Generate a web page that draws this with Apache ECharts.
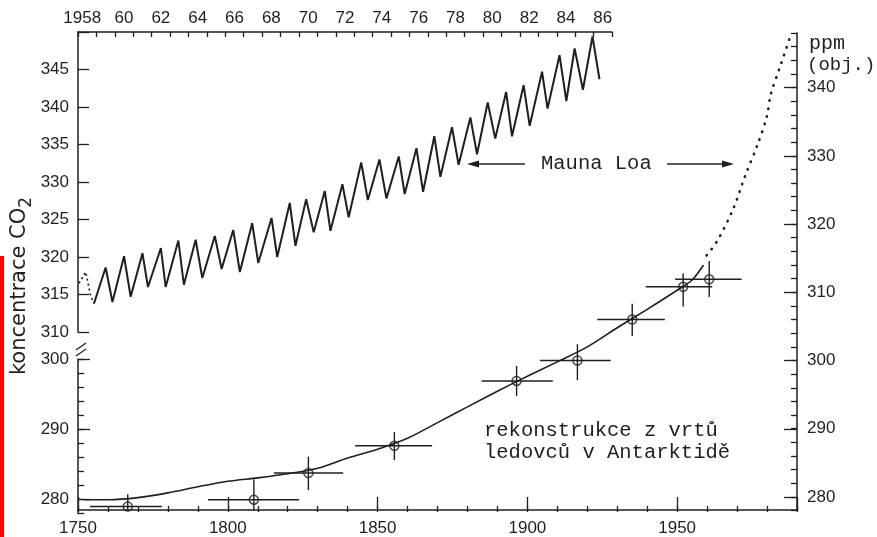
<!DOCTYPE html>
<html><head><meta charset="utf-8">
<script src="https://cdn.jsdelivr.net/npm/echarts/dist/echarts.min.js"></script>
<style>html,body{margin:0;padding:0;background:#fff}#c{width:877px;height:537px}</style>
</head><body><div id="c"></div>
<script>
// ---------- data ----------
// top axis categories (Mauna Loa years)
const topYears = ['1958','1959','1960','1961','1962','1963','1964','1965','1966','1967','1968','1969','1970','1971','1972','1973','1974','1975','1976','1977','1978','1979','1980','1981','1982','1983','1984','1985','1986'];

// Mauna Loa monthly record (decimal year, ppm) – solid part
const mlTime = [1958.87,1959.50,1959.87,1960.50,1960.86,1961.50,1961.80,1962.50,1962.76,1963.45,1963.75,1964.39,1964.75,1965.43,1965.80,1966.43,1966.79,1967.46,1967.79,1968.51,1968.82,1969.50,1969.81,1970.39,1970.80,1971.40,1971.71,1972.36,1972.70,1973.38,1973.74,1974.37,1974.75,1975.42,1975.74,1976.38,1976.74,1977.35,1977.68,1978.31,1978.67,1979.31,1979.67,1980.25,1980.66,1981.25,1981.57,1982.20,1982.53,1983.20,1983.50,1984.15,1984.52,1984.97,1985.42,1985.94,1986.32];
const mlPpm  = [313.8,318.6,314.0,320.1,314.7,320.5,316.0,321.2,316.0,322.2,316.3,322.3,317.2,322.8,318.4,323.6,318.0,324.5,319.2,325.2,320.0,327.2,321.5,327.7,323.3,328.8,323.5,329.7,325.3,332.6,327.6,333.0,327.8,333.4,328.4,334.5,328.7,336.1,330.7,337.3,332.3,338.6,333.7,340.6,335.8,342.0,336.1,342.9,337.5,344.7,339.8,346.9,340.8,347.8,342.3,349.4,343.7];
// Mauna Loa – dotted beginning
const mlStartTime = [1958.05,1958.42,1958.70,1958.87];
const mlStartPpm  = [316.5,318.0,314.7,313.8];

// Ice-core reconstruction (Antarctica)
const iceYear    = [1766.6,1808.7,1826.9,1855.6,1896.4,1916.7,1935.0,1952.0,1960.7];
const icePpm     = [278.6,279.6,283.5,287.5,297.0,300.0,306.0,310.8,311.9];
const iceYearLo  = [1754.0,1793.4,1815.4,1842.5,1884.7,1904.2,1923.3,1939.5,1949.3];
const iceYearHi  = [1778.0,1823.8,1838.5,1868.2,1908.5,1927.8,1945.9,1961.7,1971.5];
const icePpmLo   = [278.0,278.0,281.0,285.4,294.8,297.1,303.6,307.9,309.3];
const icePpmHi   = [280.4,282.6,285.9,289.5,299.2,302.4,308.3,312.8,314.6];

// fitted curve through ice-core data
const curveYear = [1752,1760,1770,1780,1790,1800,1810,1820,1830,1840,1850,1860,1870,1880,1890,1900,1910,1920,1930,1940,1950,1955,1958.8];
const curvePpm  = [279.6,279.6,279.9,280.6,281.5,282.3,282.8,283.4,284.2,285.7,287.0,288.6,290.9,293.2,295.5,297.7,299.8,302.0,304.8,307.5,310.3,311.8,314.0];

// Mauna Loa annual means on the long time axis (dotted)
const mlMeanYear = [1959.8,1963.2,1968.6,1972.8,1976.8,1979.9,1981.3,1984.3,1987.6];
const mlMeanPpm  = [315.4,317.4,322.1,327.2,331.6,335.7,339.1,343.0,347.3];

// ---------- chart ----------
const ink = '#1f1f1f';
const numFont = {fontFamily: '"Liberation Sans", Arial, sans-serif', fontSize: 17, color: ink};
const mono = '"Liberation Mono", "DejaVu Sans Mono", monospace';
const zip = (a, b) => a.map((v, i) => [v, b[i]]);
const hidden = (gridIndex, extra) => Object.assign({type: 'value', gridIndex, show: false,
  axisLine: {show: false, onZero: false}, splitLine: {show: false}}, extra || {});
const axLine = (show) => ({show: show, onZero: false, lineStyle: {color: ink, width: 1.5}});

const G = (top, height, width) => ({left: 78, top, width, height, containLabel: false});

const chart = echarts.init(document.getElementById('c'), null, {renderer: 'canvas'});
const errRows = iceYear.map((y, i) => [y, icePpm[i], iceYearLo[i], iceYearHi[i], icePpmLo[i], icePpmHi[i]]);

chart.setOption({
  animation: false,
  backgroundColor: '#ffffff',
  grid: [
    G(32, 300, 534),      // 0 upper Mauna Loa
    G(359.3, 140, 719),   // 1 lower-left major
    G(359.3, 154.1, 719), // 2 lower-left minor
    G(33, 477.6, 719),    // 3 main data (right axis minor)
    G(87.6, 409.4, 719),  // 4 right axis major
    G(33, 479, 719),      // 5 bottom axis major
    G(33, 479, 719)       // 6 bottom axis minor
  ],
  xAxis: [
    {type: 'category', gridIndex: 0, position: 'top', data: topYears, boundaryGap: true,
     axisLine: axLine(true),
     axisTick: {show: true, inside: true, length: 5, interval: 0, alignWithLabel: false, lineStyle: {color: ink, width: 1.3}},
     axisLabel: Object.assign({interval: 1, margin: 5, showMinLabel: true, showMaxLabel: true, hideOverlap: false,
       formatter: v => v === '1958' ? '1958{h|19}' : v.slice(2),
       rich: {h: {color: 'rgba(0,0,0,0)', fontSize: 9, fontFamily: numFont.fontFamily}}}, numFont),
     splitLine: {show: false}},
    hidden(0, {min: 1958, max: 1987}),
    hidden(1, {min: 0, max: 1}), hidden(2, {min: 0, max: 1}),
    hidden(3, {min: 1750, max: 1990}),
    hidden(4, {min: 0, max: 1}),
    {type: 'value', gridIndex: 5, position: 'bottom', min: 1750, max: 1990, interval: 50,
     axisLine: axLine(true),
     axisTick: {show: true, inside: true, length: 13, lineStyle: {color: ink, width: 1.3}},
     axisLabel: Object.assign({margin: 10, formatter: v => (v % 50 === 0 && v < 1990) ? String(v) : ''}, numFont),
     splitLine: {show: false}},
    {type: 'value', gridIndex: 6, position: 'bottom', min: 1750, max: 1990, interval: 10,
     axisLine: axLine(false),
     axisTick: {show: true, inside: true, length: 6, lineStyle: {color: ink, width: 1.3}},
     axisLabel: {show: false}, splitLine: {show: false}}
  ],
  yAxis: [
    {type: 'value', gridIndex: 0, position: 'left', min: 310, max: 350, interval: 5,
     axisLine: axLine(true),
     axisTick: {show: true, inside: true, length: 11, lineStyle: {color: ink, width: 1.3}},
     axisLabel: Object.assign({margin: 9, formatter: v => v === 350 ? '' : String(v)}, numFont),
     splitLine: {show: false}},
    {type: 'value', gridIndex: 1, position: 'left', min: 280, max: 300, interval: 10,
     axisLine: axLine(false),
     axisTick: {show: true, inside: true, length: 12, lineStyle: {color: ink, width: 1.3}},
     axisLabel: Object.assign({margin: 9}, numFont), splitLine: {show: false}},
    {type: 'value', gridIndex: 2, position: 'left', min: 278, max: 300, interval: 2,
     axisLine: axLine(true),
     axisTick: {show: true, inside: true, length: 6, lineStyle: {color: ink, width: 1.3}},
     axisLabel: {show: false}, splitLine: {show: false}},
    {type: 'value', gridIndex: 3, position: 'right', min: 278, max: 348, interval: 2,
     axisLine: axLine(true),
     axisTick: {show: true, inside: true, length: 6, lineStyle: {color: ink, width: 1.3}},
     axisLabel: {show: false}, splitLine: {show: false}},
    {type: 'value', gridIndex: 4, position: 'right', min: 280, max: 340, interval: 10,
     axisLine: axLine(false),
     axisTick: {show: true, inside: true, length: 13, lineStyle: {color: ink, width: 1.3}},
     axisLabel: Object.assign({margin: 10}, numFont), splitLine: {show: false}},
    hidden(5, {min: 0, max: 1}), hidden(6, {min: 0, max: 1})
  ],
  series: [
    {type: 'line', name: 'Mauna Loa', xAxisIndex: 1, yAxisIndex: 0, data: zip(mlTime, mlPpm),
     showSymbol: false, lineStyle: {color: ink, width: 2}, z: 3},
    {type: 'line', name: 'Mauna Loa start', xAxisIndex: 1, yAxisIndex: 0, data: zip(mlStartTime, mlStartPpm),
     showSymbol: false, lineStyle: {color: ink, width: 1.7, type: [2, 3]}, z: 3},
    {type: 'line', name: 'křivka', xAxisIndex: 4, yAxisIndex: 3, data: zip(curveYear, curvePpm),
     smooth: 0.3, showSymbol: false, lineStyle: {color: ink, width: 1.6}},
    {type: 'line', name: 'Mauna Loa roční', xAxisIndex: 4, yAxisIndex: 3, data: zip(mlMeanYear, mlMeanPpm),
     smooth: 0.3, showSymbol: false, lineStyle: {color: ink, width: 2.6, type: [0.5, 7.5], cap: 'round'}},
    {type: 'custom', name: 'chyby', xAxisIndex: 4, yAxisIndex: 3, data: errRows, encode: {x: 0, y: 1},
     renderItem: (params, api) => {
       const x = api.value(0), y = api.value(1);
       const l = api.coord([api.value(2), y]), r = api.coord([api.value(3), y]);
       const b = api.coord([x, api.value(4)]), t = api.coord([x, api.value(5)]);
       const st = {stroke: ink, lineWidth: 1.4};
       return {type: 'group', children: [
         {type: 'line', shape: {x1: l[0], y1: l[1], x2: r[0], y2: r[1]}, style: st},
         {type: 'line', shape: {x1: b[0], y1: b[1], x2: t[0], y2: t[1]}, style: st}
       ]};
     }},
    {type: 'scatter', name: 'vrty', xAxisIndex: 4, yAxisIndex: 3, data: zip(iceYear, icePpm),
     symbol: 'circle', symbolSize: 9,
     itemStyle: {color: 'rgba(0,0,0,0)', borderColor: ink, borderWidth: 1.5}, z: 4}
  ],
  graphic: [
    {type: 'rect', shape: {x: 0, y: 256, width: 4, height: 281}, style: {fill: '#ff0000'}},
    {type: 'line', shape: {x1: 76, y1: 350, x2: 86, y2: 343}, style: {stroke: ink, lineWidth: 1.3}},
    {type: 'line', shape: {x1: 76, y1: 356, x2: 86, y2: 349}, style: {stroke: ink, lineWidth: 1.3}},
    {type: 'text', x: 20, y: 286, rotation: Math.PI / 2,
     style: {text: '{a|koncentrace CO}{b|2}', align: 'center', verticalAlign: 'middle',
       rich: {a: {fontFamily: '"DejaVu Sans", sans-serif', fontSize: 21, lineHeight: 30, fill: ink, color: ink, verticalAlign: 'middle'},
              b: {fontFamily: '"DejaVu Sans", sans-serif', fontSize: 17, lineHeight: 14, fill: ink, color: ink, verticalAlign: 'bottom'}}}},
    {type: 'text', x: 541, y: 164, style: {text: 'Mauna Loa', fontFamily: mono, fontSize: 20.5, fill: ink, align: 'left', verticalAlign: 'middle'}},
    {type: 'line', shape: {x1: 474, y1: 164, x2: 525, y2: 164}, style: {stroke: ink, lineWidth: 1.4}},
    {type: 'polygon', shape: {points: [[467, 164], [479, 160.5], [479, 167.5]]}, style: {fill: ink}},
    {type: 'line', shape: {x1: 667, y1: 164, x2: 727, y2: 164}, style: {stroke: ink, lineWidth: 1.4}},
    {type: 'polygon', shape: {points: [[734, 164], [722, 160.5], [722, 167.5]]}, style: {fill: ink}},
    {type: 'text', x: 484, y: 431, style: {text: 'rekonstrukce z vrtů', fontFamily: mono, fontSize: 20.5, fill: ink, align: 'left', verticalAlign: 'middle'}},
    {type: 'text', x: 484, y: 453, style: {text: 'ledovců v Antarktidě', fontFamily: mono, fontSize: 20.5, fill: ink, align: 'left', verticalAlign: 'middle'}},
    {type: 'text', x: 809, y: 44, style: {text: 'ppm', fontFamily: mono, fontSize: 20, fill: ink, align: 'left', verticalAlign: 'middle'}},
    {type: 'text', x: 807, y: 65, style: {text: '(obj.)', fontFamily: mono, fontSize: 19, fill: ink, align: 'left', verticalAlign: 'middle'}}
  ]
});
</script></body></html>
